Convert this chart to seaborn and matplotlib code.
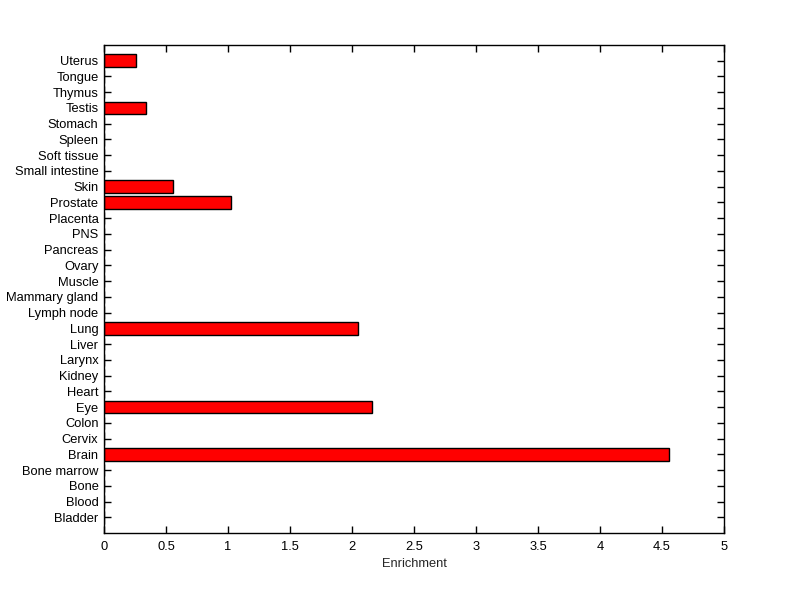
import numpy as np
import pandas as pd
import seaborn as sns
import matplotlib.pyplot as plt

sns.set_style('white')
plt.rcParams['font.family'] = ['Liberation Sans', 'DejaVu Sans']

# tissues, bottom to top
tissues = ['Bladder', 'Blood', 'Bone', 'Bone marrow', 'Brain', 'Cervix', 'Colon',
           'Eye', 'Heart', 'Kidney', 'Larynx', 'Liver', 'Lung', 'Lymph node',
           'Mammary gland', 'Muscle', 'Ovary', 'Pancreas', 'PNS', 'Placenta',
           'Prostate', 'Skin', 'Small intestine', 'Soft tissue', 'Spleen',
           'Stomach', 'Testis', 'Thymus', 'Tongue', 'Uterus']
enrichment = [0, 0, 0, 0, 4.554, 0, 0,
              2.159, 0, 0, 0, 0, 2.046, 0,
              0, 0, 0, 0, 0, 0,
              1.022, 0.554, 0, 0, 0,
              0, 0.336, 0, 0, 0.256]

df = pd.DataFrame({'tissue': tissues, 'enrichment': enrichment})
order = tissues[::-1]  # seaborn puts the first category on top

fig = plt.figure(figsize=(8, 5.99), dpi=100)
ax = fig.add_axes([0.13, 0.11, 0.775, 0.815])
sns.barplot(data=df, x='enrichment', y='tissue', order=order, orient='h',
            color='red', saturation=1, width=0.8, edgecolor='black',
            linewidth=1, ax=ax)

ax.set_xlim(0, 5)
ax.set_ylim(len(tissues), -1)
ax.set_xticks(np.arange(0, 5.01, 0.5))
ax.set_xticklabels(['0', '0.5', '1', '1.5', '2', '2.5', '3', '3.5', '4', '4.5', '5'])
ax.set_xlabel('Enrichment', fontsize=9.3, labelpad=3)
ax.set_ylabel('')
ax.tick_params(axis='both', direction='in', length=5, width=1, labelsize=9.3,
               top=True, right=True, bottom=True, left=True, colors='black')
ax.tick_params(axis='x', pad=6)
ax.tick_params(axis='y', pad=4)
for s in ax.spines.values():
    s.set_color('black')
    s.set_linewidth(1)

fig.savefig('out.png', dpi=100, facecolor='white')
